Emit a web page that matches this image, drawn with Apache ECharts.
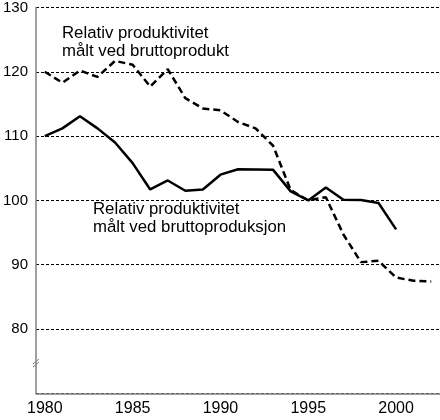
<!DOCTYPE html>
<html><head><meta charset="utf-8">
<script src="https://cdn.jsdelivr.net/npm/echarts@6/dist/echarts.min.js"></script>
<style>html,body{margin:0;padding:0;background:#fff}#c{width:440px;height:420px}</style>
</head><body><div id="c"></div>
<script>
const years = ['1980','1981','1982','1983','1984','1985','1986','1987','1988','1989','1990','1991','1992','1993','1994','1995','1996','1997','1998','1999','2000','2001','2002'];
const bruttoprodukt = [120.0,118.3,120.2,119.2,121.7,121.1,117.7,120.4,115.9,114.3,114.0,112.2,111.2,108.5,101.6,100.0,100.5,94.7,90.4,90.6,88.0,87.5,87.4];
const bruttoproduksjon = [110.0,111.2,113.1,111.2,109.0,105.8,101.7,103.1,101.5,101.7,104.0,104.85,104.8,104.75,101.4,100.0,102.0,100.1,100.05,99.6,95.5,null,null];
const yTicks = [80,90,100,110,120,130];
const label1 = 'Relativ produktivitet\nmålt ved bruttoprodukt';
const label2 = 'Relativ produktivitet\nmålt ved bruttoproduksjon';

const chart = echarts.init(document.getElementById('c'));
const font = 'Liberation Sans, Arial, sans-serif';
chart.setOption({
  animation:false,
  grid:{left:33,right:0,top:6,bottom:26.7},
  xAxis:{type:'category',data:years,boundaryGap:true,
    axisLine:{lineStyle:{color:'#808080',width:1.5}},
    axisTick:{inside:true,alignWithLabel:true,interval:0,length:8,lineStyle:{color:'#333',width:1}},
    axisLabel:{interval:4,margin:7,fontSize:16,color:'#000',fontFamily:font},
    splitLine:{show:false}},
  yAxis:{type:'value',min:70,max:130,interval:10,
    axisLine:{show:true,lineStyle:{color:'#808080',width:1.5}},
    axisTick:{show:false},
    axisLabel:{margin:8,fontSize:15,color:'#000',fontFamily:font,
      formatter:v=>yTicks.indexOf(v)>=0?String(v):''},
    splitLine:{show:true,lineStyle:{color:'#000',width:1,type:[3,2]}}},
  series:[
    {type:'line',data:bruttoprodukt,symbol:'none',lineStyle:{color:'#000',width:2.5,type:[7,4]},z:3},
    {type:'line',data:bruttoproduksjon,symbol:'none',lineStyle:{color:'#000',width:2.5},z:4}
  ]
});
// hide the 70 grid line by covering it is unnecessary (axis line there); add text + break mark
const p1 = chart.convertToPixel({xAxisIndex:0,yAxisIndex:0},['1981',126]);
const p2 = chart.convertToPixel({xAxisIndex:0,yAxisIndex:0},['1983',98.6]);
const pb = chart.convertToPixel({yAxisIndex:0},74.7);
const ax = chart.convertToPixel({xAxisIndex:0},'1980') - 8.85;
chart.setOption({graphic:[
  {type:'text',left:62,top:p1[1]-9,style:{text:label1,fontSize:16.8,lineHeight:18,fill:'#000',fontFamily:font}},
  {type:'text',left:93,top:p2[1]-9,style:{text:label2,fontSize:16.8,lineHeight:18,fill:'#000',fontFamily:font}},
  {type:'line',shape:{x1:ax-3,y1:pb+1,x2:ax+3,y2:pb-4},style:{stroke:'#808080',lineWidth:1}},
  {type:'line',shape:{x1:ax-3,y1:pb+4,x2:ax+3,y2:pb-1},style:{stroke:'#808080',lineWidth:1}}
]});
</script></body></html>
